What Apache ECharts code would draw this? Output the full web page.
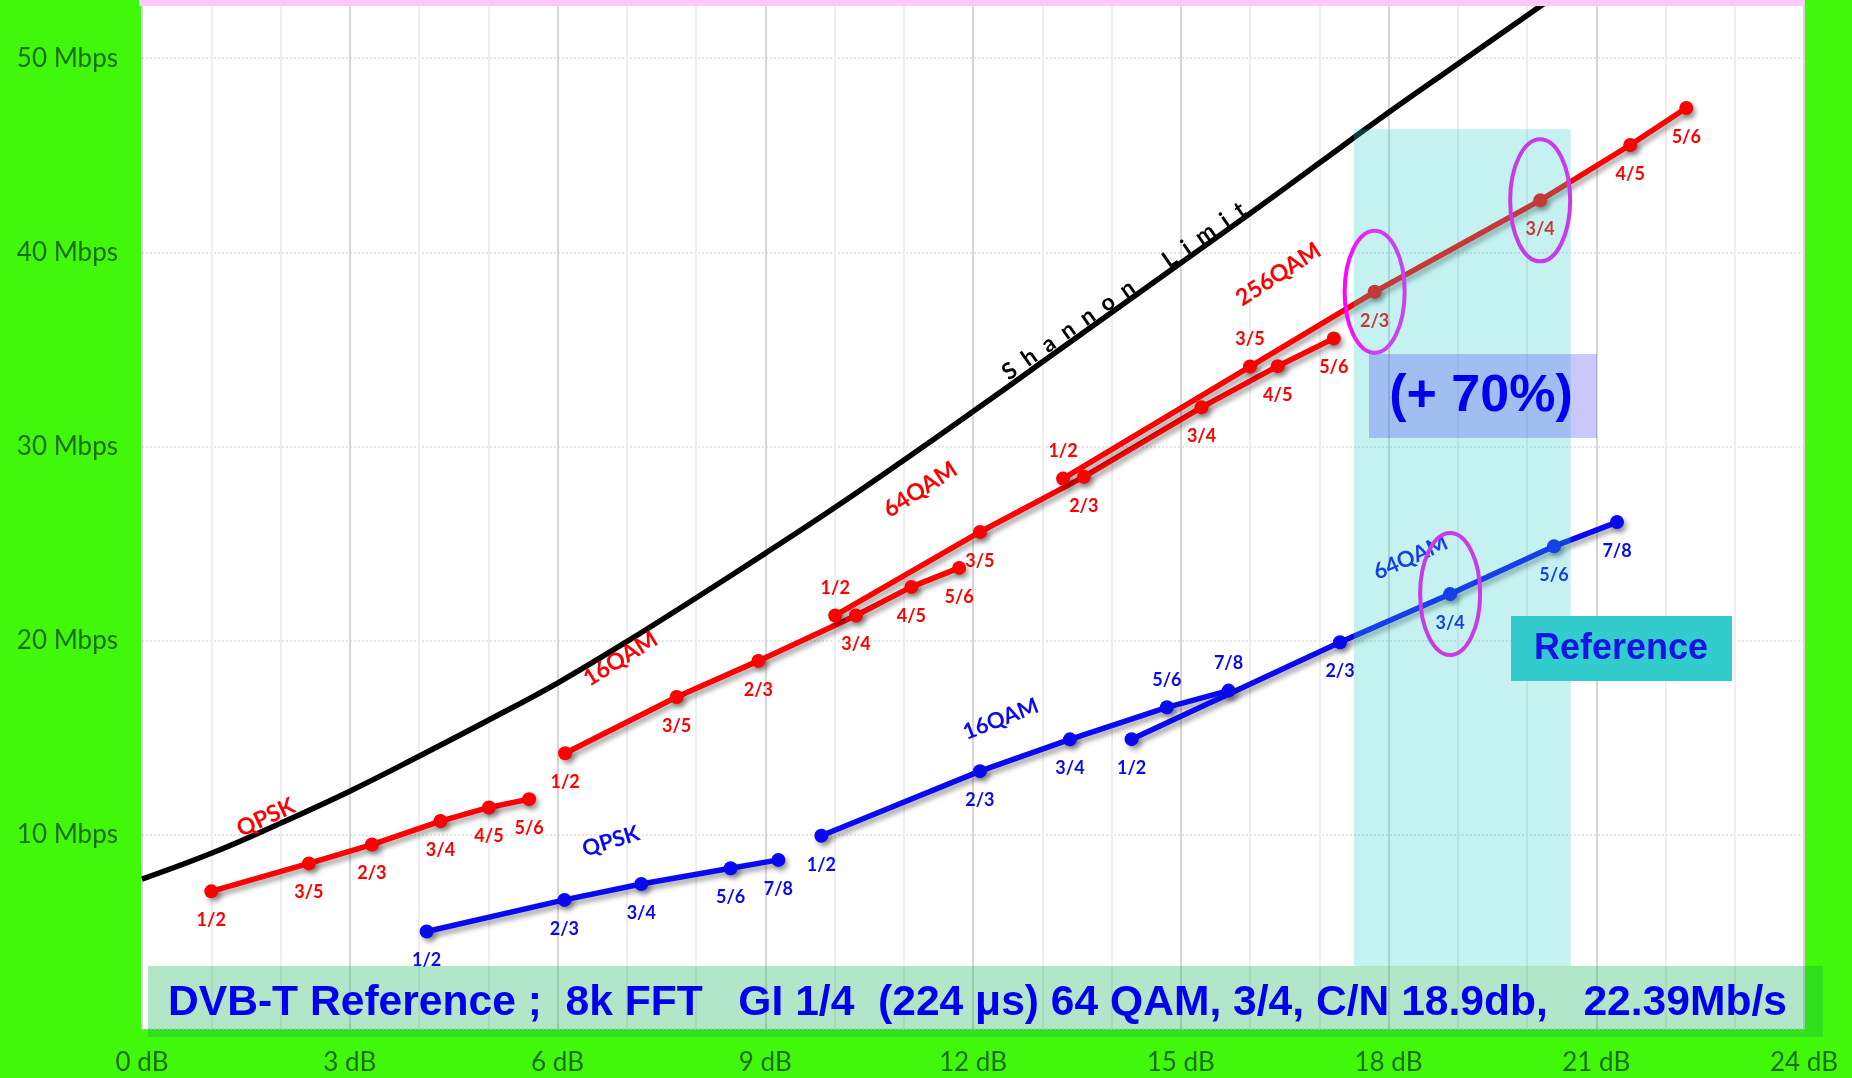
<!DOCTYPE html>
<html><head><meta charset="utf-8">
<script src="https://cdn.jsdelivr.net/npm/echarts@6/dist/echarts.min.js"></script>
<style>html,body{margin:0;padding:0;background:#42f80a;overflow:hidden}#c{width:1852px;height:1078px}</style>
</head><body><div id="c"></div>
<script>
// ---------- data ----------
const xTickLabels = [0, 3, 6, 9, 12, 15, 18, 21, 24];      // dB
const yTickLabels = [10, 20, 30, 40, 50];                  // Mbps
const rateT2 = ['1/2', '3/5', '2/3', '3/4', '4/5', '5/6'];
const rateT = ['1/2', '2/3', '3/4', '5/6', '7/8'];

const t2QpskDb = [1.00, 2.41, 3.32, 4.31, 5.01, 5.59];
const t2QpskMbps = [7.09, 8.53, 9.50, 10.71, 11.41, 11.84];
const t2Qam16Db = [6.11, 7.72, 8.90, 10.31, 11.11, 11.80];
const t2Qam16Mbps = [14.20, 17.10, 18.96, 21.30, 22.77, 23.75];
const t2Qam64Db = [10.01, 12.10, 13.60, 15.30, 16.40, 17.21];
const t2Qam64Mbps = [21.30, 25.60, 28.44, 32.02, 34.14, 35.57];
const t2Qam256Db = [13.30, 16.00, 17.80, 20.19, 21.49, 22.30];
const t2Qam256Mbps = [28.35, 34.12, 37.97, 42.68, 45.53, 47.44];

const tQpskDb = [4.11, 6.10, 7.21, 8.50, 9.19];
const tQpskMbps = [5.02, 6.65, 7.47, 8.28, 8.71];
const tQam16Db = [9.81, 12.10, 13.40, 14.80, 15.69];
const tQam16Mbps = [9.95, 13.28, 14.92, 16.57, 17.43];
const tQam64Db = [14.29, 17.30, 18.89, 20.39, 21.30];
const tQam64Mbps = [14.93, 19.92, 22.40, 24.86, 26.11];

const shannonDb = [0, 1, 2, 3, 4, 5, 6, 7, 8, 9, 10, 11, 12, 13, 14, 15, 16, 17, 18, 19, 20, 21];
const shannonMbps = [7.72, 9.05, 10.6, 12.25, 14.05, 15.9, 17.82, 19.95, 22.2, 24.5, 26.85, 29.3, 31.8, 34.35, 36.9, 39.45, 42.0, 44.6, 47.2, 49.7, 52.2, 54.7];

// series name tags (text + anchor in data units)
const tagText = ['QPSK', '16QAM', '64QAM', '256QAM', 'QPSK', '16QAM', '64QAM', 'S  h  a  n  n  o  n       L  i  m  i  t'];
const tagDb = [1.79, 6.91, 11.24, 16.41, 6.77, 12.40, 18.32, 14.18];
const tagMbps = [10.89, 19.06, 27.78, 38.87, 9.66, 15.96, 24.28, 38.0];

// highlighted band (dB range / Mbps range)
const bandDb = [17.5, 20.63];
const bandMbps = [3.25, 46.34];

// ---------- styles ----------
const RED = '#ff0000', BLUE = '#0a0af2';
const tagStyle = [
  {rot: 25, color: RED, size: 23}, {rot: 32, color: RED, size: 23}, {rot: 33, color: RED, size: 23},
  {rot: 33, color: RED, size: 23}, {rot: 17, color: BLUE, size: 22}, {rot: 21, color: BLUE, size: 22},
  {rot: 24, color: BLUE, size: 22}, {rot: 35, color: '#000', size: 23}
];
const labelsAbove = {t2Qam64: [0], t2Qam256: [0, 1], tQam16: [3, 4]};

const chart = echarts.init(document.getElementById('c'), null, {renderer: 'canvas'});
const shadow = {shadowColor: 'rgba(0,0,0,0.35)', shadowBlur: 5, shadowOffsetX: 3, shadowOffsetY: 4};

function mkSeries(key, xs, ys, rates, color) {
  const above = labelsAbove[key] || [];
  return {
    type: 'line', name: key, z: 3,
    data: xs.map((x, i) => ({value: [x, ys[i]], label: {position: above.includes(i) ? 'top' : 'bottom', distance: above.includes(i) ? 11 : 13}})),
    symbol: 'circle', symbolSize: 14,
    lineStyle: Object.assign({width: 5.5, color: color}, shadow),
    itemStyle: Object.assign({color: color}, shadow),
    label: {show: true, formatter: p => rates[p.dataIndex], color: color, fontSize: 18, fontWeight: 'bold', fontFamily: 'Lato'},
    emphasis: {disabled: true}, animation: false
  };
}

const highlightPts = [
  [t2Qam256Db[2], t2Qam256Mbps[2]],
  [t2Qam256Db[3], t2Qam256Mbps[3]],
  [tQam64Db[2], tQam64Mbps[2]]
];

// measure caption for horizontal fit
const caption = 'DVB-T Reference ;  8k FFT   GI 1/4  (224 \u03bcs) 64 QAM, 3/4, C/N 18.9db,   22.39Mb/s';
const capFont = 'bold 43px "Liberation Sans", Arial, sans-serif';
const cv = document.createElement('canvas').getContext('2d');
cv.font = capFont;
const capScale = 1619 / cv.measureText(caption).width;

const option = {
  backgroundColor: '#42f80a',
  animation: false,
  grid: {left: 142, right: 48, top: 0, bottom: 49, show: true, backgroundColor: '#ffffff', borderWidth: 0},
  xAxis: {
    type: 'value', min: 0, max: 24, interval: 1,
    axisLine: {show: false}, axisTick: {show: false},
    axisLabel: {formatter: v => xTickLabels.includes(v) ? v + ' dB' : '', color: '#1c6e12', fontSize: 26, fontFamily: 'Lato', margin: 21},
    splitLine: {show: true, lineStyle: {color: ['#d6d6d6', '#eeeeee', '#eeeeee'], width: 2}}
  },
  yAxis: {
    type: 'value', min: 0, max: 53, interval: 10,
    axisLine: {show: false}, axisTick: {show: false},
    axisLabel: {formatter: v => yTickLabels.includes(v) ? v + ' Mbps' : '', color: '#1c6e12', fontSize: 26, fontFamily: 'Lato', margin: 24},
    splitLine: {show: true, lineStyle: {color: '#dedede', width: 1.5, type: [2, 2]}}
  },
  series: [
    {
      type: 'line', name: 'Shannon', z: 2, smooth: 0.4, showSymbol: false,
      data: shannonDb.map((x, i) => [x, shannonMbps[i]]),
      lineStyle: {width: 5.5, color: '#000'}, emphasis: {disabled: true}
    },
    mkSeries('t2Qpsk', t2QpskDb, t2QpskMbps, rateT2, RED),
    mkSeries('t2Qam16', t2Qam16Db, t2Qam16Mbps, rateT2, RED),
    mkSeries('t2Qam64', t2Qam64Db, t2Qam64Mbps, rateT2, RED),
    mkSeries('t2Qam256', t2Qam256Db, t2Qam256Mbps, rateT2, RED),
    mkSeries('tQpsk', tQpskDb, tQpskMbps, rateT, BLUE),
    mkSeries('tQam16', tQam16Db, tQam16Mbps, rateT, BLUE),
    mkSeries('tQam64', tQam64Db, tQam64Mbps, rateT, BLUE),
    {
      type: 'custom', name: 'tags', z: 5, silent: true,
      data: tagDb.map((x, i) => [x, tagMbps[i]]),
      renderItem: (params, api) => {
        const p = api.coord([api.value(0), api.value(1)]);
        const s = tagStyle[params.dataIndex];
        return {type: 'text', x: p[0], y: p[1], rotation: s.rot * Math.PI / 180,
          style: {text: tagText[params.dataIndex], fill: s.color, font: 'bold ' + s.size + 'px Lato, sans-serif', align: 'center', verticalAlign: 'middle'}};
      }
    },
    {
      type: 'custom', name: 'band', z: 10, silent: true,
      data: [[bandDb[0], bandMbps[0], bandDb[1], bandMbps[1]]],
      encode: {x: [0, 2], y: [1, 3]},
      renderItem: (params, api) => {
        const a = api.coord([api.value(0), api.value(1)]);
        const b = api.coord([api.value(2), api.value(3)]);
        return {type: 'rect', shape: {x: a[0], y: b[1], width: b[0] - a[0], height: a[1] - b[1]}, style: {fill: 'rgba(51,204,204,0.28)'}};
      }
    },
    {
      type: 'custom', name: 'rings', z: 12, silent: true,
      data: highlightPts,
      renderItem: (params, api) => {
        const p = api.coord([api.value(0), api.value(1)]);
        const stroke = params.dataIndex === 0
          ? new echarts.graphic.LinearGradient(0, 0, 1, 0, [{offset: 0, color: '#ff00ff'}, {offset: 0.5, color: '#d83cf0'}, {offset: 1, color: '#c444ee'}])
          : '#c83ce8';
        return {type: 'ellipse', shape: {cx: p[0], cy: p[1], rx: 30, ry: 61}, style: {fill: 'none', stroke: stroke, lineWidth: 4}};
      }
    }
  ],
  graphic: [
    {type: 'rect', z: 100, shape: {x: 139, y: 0, width: 1665, height: 6}, style: {fill: '#ffc8ff'}},
    {type: 'rect', z: 100, shape: {x: 1369, y: 354, width: 228, height: 84}, style: {fill: 'rgba(72,72,238,0.3)'}},
    {type: 'text', z: 101, x: 1481, y: 397, style: {text: '(+ 70%)', fill: '#0000ee', font: 'bold 52px "Liberation Sans", Arial, sans-serif', align: 'center', verticalAlign: 'middle'}},
    {type: 'rect', z: 100, shape: {x: 1511, y: 616, width: 221, height: 65}, style: {fill: '#33cccc'}},
    {type: 'text', z: 101, x: 1621, y: 649, style: {text: 'Reference', fill: '#1414e4', font: 'bold 36px "Liberation Sans", Arial, sans-serif', align: 'center', verticalAlign: 'middle'}},
    {type: 'rect', z: 100, shape: {x: 148, y: 966, width: 1675, height: 71}, style: {fill: 'rgba(0,172,72,0.3)'}},
    {type: 'text', z: 101, x: 168, y: 1003, scaleX: capScale, style: {text: caption, fill: '#0000ee', font: capFont, align: 'left', verticalAlign: 'middle'}}
  ]
};
chart.setOption(option);
</script>
</body></html>
